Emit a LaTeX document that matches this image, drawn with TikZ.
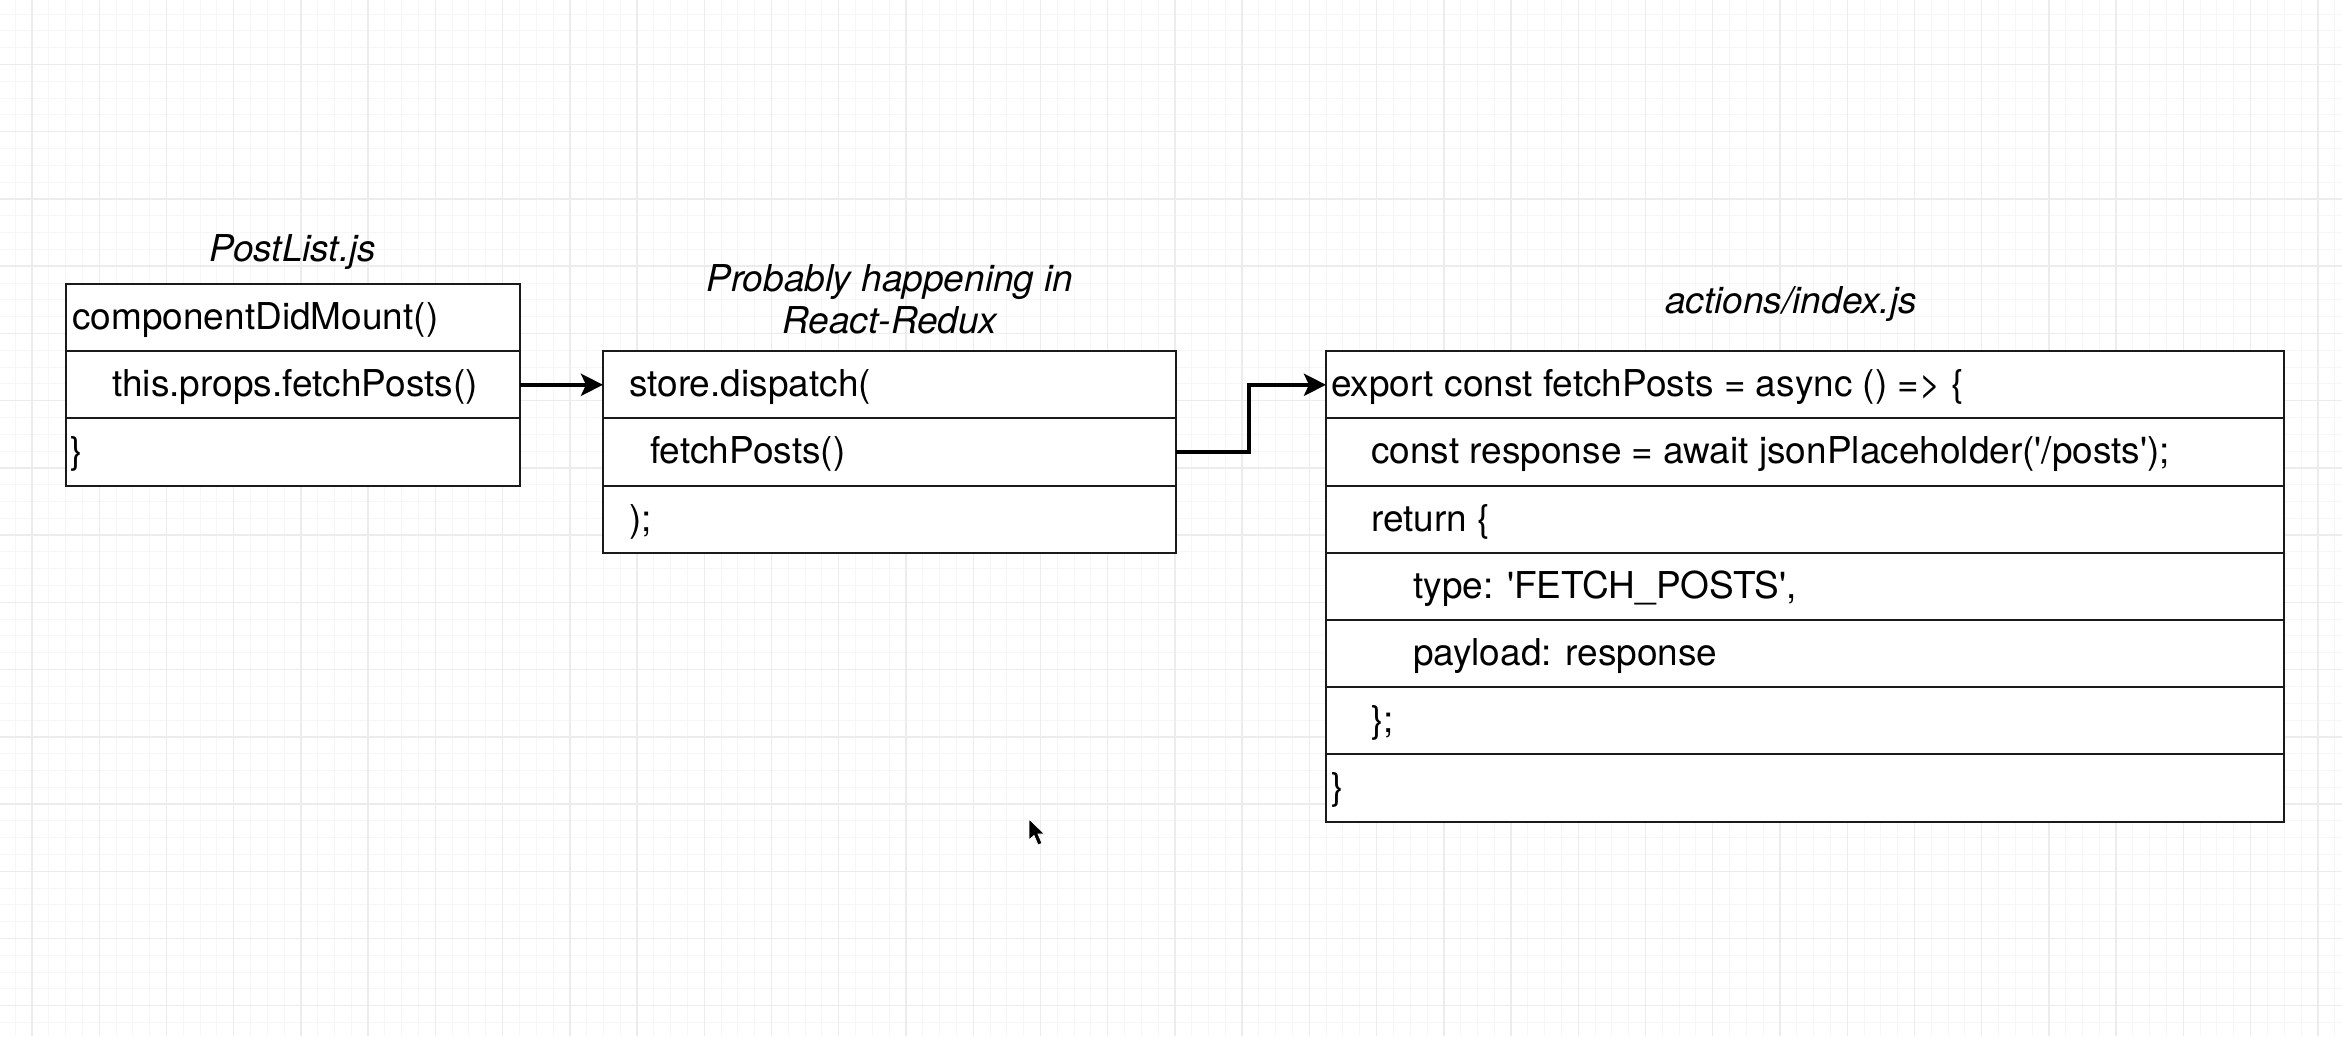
\documentclass[tikz,border=0pt]{standalone}
\usepackage{fontspec}
\newfontfamily\hv{TeX Gyre Heros}
\usetikzlibrary{arrows.meta}
\definecolor{gridminor}{HTML}{F6F6F6}
\definecolor{gridmajor}{HTML}{ECECEC}
\definecolor{edge}{HTML}{1A1A1A}
\begin{document}
\begin{tikzpicture}[x=1pt,y=-1pt,
  rowbox/.style={draw=edge, line width=2pt, fill=white, minimum height=67.2pt,
    anchor=north west, inner sep=0pt, outer sep=0pt},
  code/.style={anchor=base west, inner sep=0pt, font=\hv\fontsize{37}{44}\selectfont},
  title/.style={anchor=base, inner sep=0pt, font=\hv\fontsize{37}{44}\selectfont\itshape},
  link/.style={line width=4.2pt, draw=black, line join=miter,
    -{Stealth[length=22pt,width=22pt,inset=5pt]}}]
\useasboundingbox (0,0) rectangle (2342,1036);
\fill[white] (0,0) rectangle (2342,1036);
% grid
\foreach \i in {0,...,140} \draw[gridminor, line width=1pt] ({-1.62+16.8075*\i},0) -- ++(0,1036);
\foreach \i in {0,...,62} \draw[gridminor, line width=1pt] (0,{-2.73+16.8075*\i}) -- ++(2342,0);
\foreach \i in {0,...,34} \draw[gridmajor, line width=1.4pt] ({32+67.23*\i},0) -- ++(0,1036);
\foreach \i in {-1,...,15} \draw[gridmajor, line width=1.4pt] (0,{64.5+67.23*\i}) -- ++(2342,0);

% titles
\node[title] (tpost) at (293,261) {PostList.js};
\node[title] (tredux1) at (890,291.7) {Probably happening in};
\node[title] (tredux2) at (890,333) {React-Redux};
\node[title] (tact) at (1791,313) {actions/index.js};

% box 1
\node[rowbox, minimum width=454pt] (a1) at (66,284) {};
\node[rowbox, minimum width=454pt] (a2) at (66,351.2) {};
\node[rowbox, minimum width=454pt] (a3) at (66,418.4) {};
\node[code] (ta1) at (72,329.5) {componentDidMount()};
\node[code] (ta2) at (112,396.7) {this.props.fetchPosts()};
\node[code] (ta3) at (70,463.9) {\}};

% box 2
\node[rowbox, minimum width=572.5pt] (b1) at (603,351.2) {};
\node[rowbox, minimum width=572.5pt] (b2) at (603,418.4) {};
\node[rowbox, minimum width=572.5pt] (b3) at (603,485.6) {};
\node[code] (tb1) at (629,396.7) {store.dispatch(};
\node[code] (tb2) at (650,463.9) {fetchPosts()};
\node[code] (tb3) at (629,531.1) {);};

% box 3
\node[rowbox, minimum width=958pt] (c1) at (1326,351.2) {};
\node[rowbox, minimum width=958pt] (c2) at (1326,418.4) {};
\node[rowbox, minimum width=958pt] (c3) at (1326,485.6) {};
\node[rowbox, minimum width=958pt] (c4) at (1326,552.8) {};
\node[rowbox, minimum width=958pt] (c5) at (1326,620.0) {};
\node[rowbox, minimum width=958pt] (c6) at (1326,687.2) {};
\node[rowbox, minimum width=958pt] (c7) at (1326,754.4) {};
\node[code] (tc1) at (1331,396.7) {export const fetchPosts = async () => \{};
\node[code] (tc2) at (1371,463.9) {const response = await jsonPlaceholder('/posts');};
\node[code] (tc3) at (1371,531.1) {return \{};
\node[code] (tc4) at (1413,598.3) {type: 'FETCH\_POSTS',};
\node[code] (tc5) at (1413,665.5) {payload: response};
\node[code] (tc6) at (1371,732.7) {\};};
\node[code] (tc7) at (1331,799.9) {\}};

% connectors
\draw[link] (a2.east) -- (b1.west);
\coordinate (bend) at (1249,452);
\draw[link] (b2.east) -- (bend |- b2.east) |- (c1.west);

% mouse pointer
\fill[black, draw=white, line width=0.8pt] (1029,819) -- (1029,840) -- (1034,835.5) -- (1038,845)
  -- (1042,843.3) -- (1038,834) -- (1044.5,834) -- cycle;
\end{tikzpicture}
\end{document}
